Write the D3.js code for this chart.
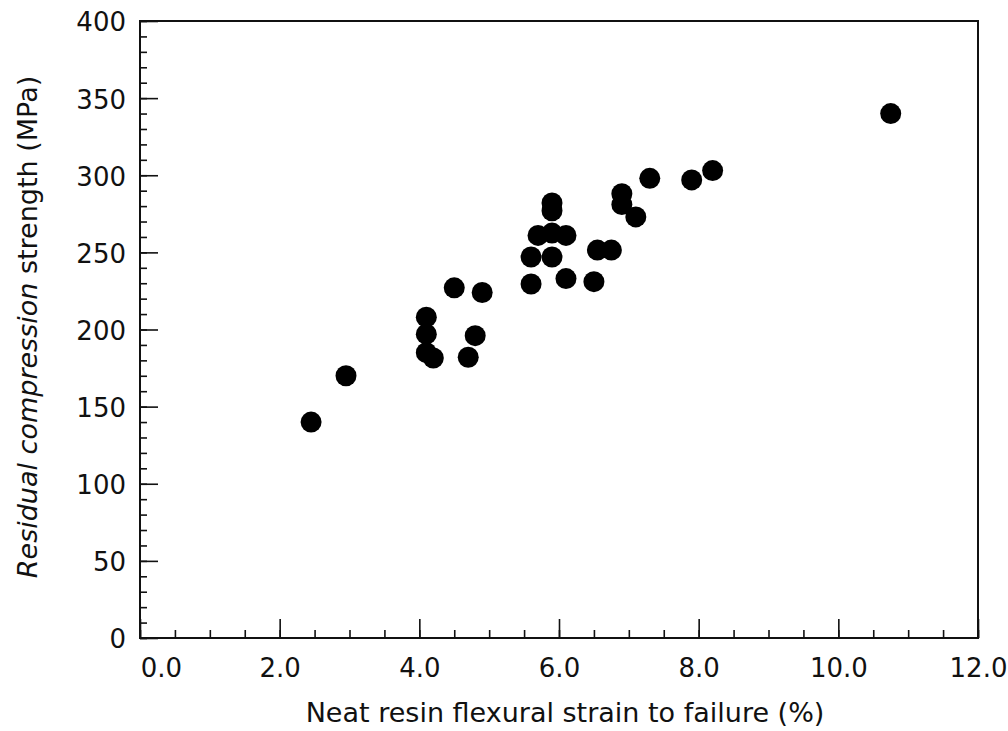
<!DOCTYPE html>
<html>
<head>
<meta charset="utf-8">
<script src="https://cdn.jsdelivr.net/npm/d3@7"></script>
<style>
  body { margin: 0; background: #fff; }
  text { font-family: "DejaVu Sans", sans-serif; fill: #111; }
</style>
</head>
<body>
<svg id="chart"></svg>
<script>
const width = 1008, height = 731;

// strain to failure (%) and residual compression strength (MPa)
const strain   = [2.45, 2.95, 4.1, 4.1, 4.1, 4.2, 4.5, 4.9, 4.8, 4.7,
                  5.6, 6.1, 6.5, 5.7, 5.9, 6.1, 5.6, 5.9, 6.55, 6.75,
                  5.9, 5.9, 6.9, 6.9, 7.1, 7.3, 7.9, 8.2, 10.75]
const strength = [140, 170, 208, 197, 185, 181.5, 227, 224, 196, 182,
                  229.5, 233, 231, 261, 262.5, 261, 247, 247, 251.5, 251.5,
                  282, 277, 288, 281, 273, 298, 297, 303, 340]

const xTicks = [0, 2, 4, 6, 8, 10, 12]
const xTickLabels = ['0.0', '2.0', '4.0', '6.0', '8.0', '10.0', '12.0']
const yTicks = [0, 50, 100, 150, 200, 250, 300, 350, 400]

const margin = {left: 140, right: 30, top: 21, bottom: 93}

const svg = d3.select('#chart')
    .attr('width', width)
    .attr('height', height)

const x = d3.scaleLinear().domain([0, 12]).range([margin.left, width - margin.right])
const y = d3.scaleLinear().domain([0, 400]).range([height - margin.bottom, margin.top])

// minor ticks
svg.append('g')
    .attr('transform', `translate(0,${y(0)})`)
    .call(d3.axisBottom(x).tickValues(d3.range(0, 12.01, 0.5)).tickSize(-8).tickFormat(''))
svg.append('g')
    .attr('transform', `translate(${x(0)},0)`)
    .call(d3.axisLeft(y).tickValues(d3.range(0, 400.1, 10)).tickSize(-7).tickFormat(''))

// major ticks with labels
const xAxis = svg.append('g')
    .attr('transform', `translate(0,${y(0)})`)
    .call(d3.axisBottom(x).tickValues(xTicks).tickSize(-19).tickPadding(0)
          .tickFormat((d, i) => xTickLabels[i]))
xAxis.selectAll('text')
    .attr('y', 39).attr('dy', 0)
    .attr('dx', (d, i) => i === 0 ? 21 : 0)

const yAxis = svg.append('g')
    .attr('transform', `translate(${x(0)},0)`)
    .call(d3.axisLeft(y).tickValues(yTicks).tickSize(-18).tickFormat(d3.format('d')))
yAxis.selectAll('text').attr('x', -14).attr('dy', '0.38em')

svg.selectAll('.tick text').style('font-size', '26px').style('font-family', '"DejaVu Sans", sans-serif')
svg.selectAll('.tick line').attr('stroke', '#111').attr('stroke-width', 1.6)
svg.selectAll('.domain').remove()

// frame
svg.append('rect')
    .attr('x', x(0)).attr('y', y(400))
    .attr('width', x(12) - x(0)).attr('height', y(0) - y(400))
    .attr('fill', 'none').attr('stroke', '#111').attr('stroke-width', 2)

// points
svg.append('g')
    .selectAll('circle')
    .data(strain)
    .enter()
    .append('circle')
        .attr('cx', d => x(d))
        .attr('cy', (d, i) => y(strength[i]))
        .attr('r', 10.5)
        .attr('fill', '#000')

// axis titles
svg.append('text')
    .attr('x', 565).attr('y', 722)
    .attr('text-anchor', 'middle')
    .style('font-size', '27px')
    .text('Neat resin flexural strain to failure (%)')

const yt = svg.append('text')
    .attr('transform', 'translate(37,327) rotate(-90)')
    .attr('text-anchor', 'middle')
    .style('font-size', '27px')
yt.append('tspan').style('font-style', 'italic').text('Residual compression')
yt.append('tspan').text(' strength (MPa)')
</script>
</body>
</html>
